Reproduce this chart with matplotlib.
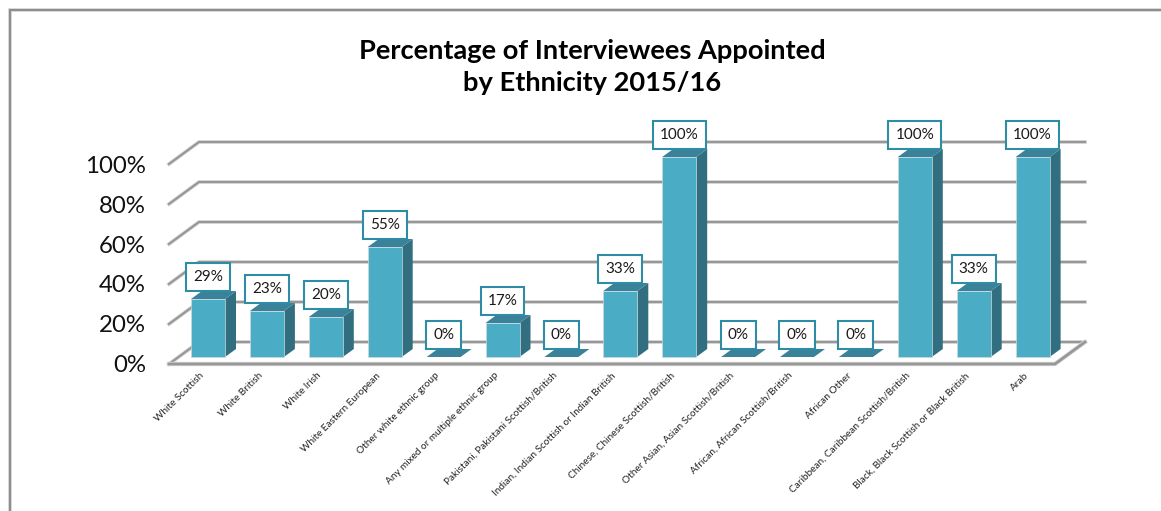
import numpy as np
import matplotlib
matplotlib.use("Agg")
import matplotlib.pyplot as plt
from matplotlib.patches import Polygon
from matplotlib.lines import Line2D
from matplotlib.transforms import ScaledTranslation

categories = [
    "White Scottish", "White British", "White Irish", "White Eastern European",
    "Other white ethnic group", "Any mixed or multiple ethnic group",
    "Pakistani, Pakistani Scottish/British", "Indian, Indian Scottish or Indian British",
    "Chinese, Chinese Scottish/British", "Other Asian, Asian Scottish/British",
    "African, African Scottish/British", "African Other",
    "Caribbean, Caribbean Scottish/British", "Black, Black Scottish or Black British",
    "Arab",
]
appointed = [29, 23, 20, 55, 0, 17, 0, 33, 100, 0, 0, 0, 100, 33, 100]
y_ticks = [0, 20, 40, 60, 80, 100]

W, H = 1161, 511
plt.rcParams['font.family'] = ['Lato', 'DejaVu Sans']

FRONT = "#4bacc6"
TOP = "#3a8299"
SIDE = "#316f80"
BOX_EDGE = "#2f8ca5"
GRID = "#979797"
GRID_SOFT = "#dcdcdc"

fig = plt.figure(figsize=(W / 100, H / 100), dpi=100)

# axes span the bars' front plane: one x unit per category, 2 px per percent
px_per_cat = 58.9
px_per_pct = 2.0
x0_px = 208.0           # centre of first bar
base_px = 357.0         # bar bottom
left_px, right_px = 169.0, 1055.0
bottom_px = 364.0
top_px = 157.0
ax = fig.add_axes([left_px / W, 1 - bottom_px / H, (right_px - left_px) / W, (bottom_px - top_px) / H])
ax.set_xlim((left_px - x0_px) / px_per_cat, (right_px - x0_px) / px_per_cat)
ax.set_ylim((base_px - bottom_px) / px_per_pct, (base_px - top_px) / px_per_pct)
for s in ax.spines.values():
    s.set_visible(False)
ax.patch.set_visible(False)

# oblique offsets used by the fake 3D look
wall_dx = 30 / px_per_cat
wall_dy = 22 / px_per_pct
bar_dx = 11 / px_per_cat
bar_dy = 8 / px_per_pct
bar_w = 34 / px_per_cat
floor = ax.get_ylim()[0]
xl, xr = ax.get_xlim()

# back wall gridlines and the left wall segments, each with a soft halo
for t in y_ticks:
    y = floor + t
    for col, lw, z in [(GRID_SOFT, 2.8, 0.9), (GRID, 1.6, 1)]:
        ax.add_line(Line2D([xl, xl + wall_dx, xr + wall_dx], [y, y + wall_dy, y + wall_dy],
                           color=col, lw=lw, clip_on=False, solid_joinstyle='miter', zorder=z))
# floor outline
for col, lw, z in [(GRID_SOFT, 3.2, 1.4), (GRID, 2.0, 1.5)]:
    ax.add_line(Line2D([xl, xr, xr + wall_dx], [floor, floor, floor + wall_dy],
                       color=col, lw=lw, clip_on=False, solid_joinstyle='miter', zorder=z))

for i, v in enumerate(appointed):
    x1, x2 = i - bar_w / 2, i + bar_w / 2
    if v > 0:
        ax.add_patch(Polygon([(x2, 0), (x2 + bar_dx, bar_dy), (x2 + bar_dx, v + bar_dy), (x2, v)],
                             fc=SIDE, ec="none", clip_on=False, zorder=2))
    ax.add_patch(Polygon([(x1, v), (x2, v), (x2 + bar_dx, v + bar_dy), (x1 + bar_dx, v + bar_dy)],
                         fc=TOP, ec="none", clip_on=False, zorder=2))
    if v > 0:
        ax.bar(i, v, width=bar_w, color=FRONT, edgecolor="#cfd8da", linewidth=0.5, clip_on=False, zorder=3)
    ax.annotate(f"{v}%", (i, v), xytext=(0, 22), textcoords='offset pixels',
                ha='center', va='center', fontsize=11, color="#1a1a1a", zorder=5,
                bbox=dict(boxstyle="square,pad=0.46", fc="white", ec=BOX_EDGE, lw=1.5))

ax.set_yticks([floor + t for t in y_ticks])
ax.set_yticklabels([f"{t}%" for t in y_ticks], fontsize=17.3, color="#111111")
ax.tick_params(axis='y', length=0, pad=16.5)
ax.set_xticks(range(len(categories)))
ax.set_xticklabels(categories, rotation=45, ha='right', va='top', rotation_mode='anchor',
                   fontsize=7.2, color="#222222")
ax.tick_params(axis='x', length=0, pad=5)

# slide category labels left so they end under the bars' left edge
shift = ScaledTranslation(-9 / 100, 0, fig.dpi_scale_trans)
for lab in ax.get_xticklabels():
    lab.set_transform(lab.get_transform() + shift)

fig.text(592 / W, 1 - 67 / H, "Percentage of Interviewees Appointed\nby Ethnicity 2015/16",
         ha='center', va='center', fontsize=19.6, fontweight='bold', color="black", linespacing=1.42)

# chart frame, running off the right and bottom edges
for col, lw in [("#d0d0d0", 2.6), ("#8c8c8c", 1.4)]:
    fig.add_artist(Line2D([10 / W, 10 / W, 1], [0, 1 - 10 / H, 1 - 10 / H], color=col, lw=lw,
                          transform=fig.transFigure, solid_joinstyle='miter'))

fig.savefig("out.png", dpi=100)
